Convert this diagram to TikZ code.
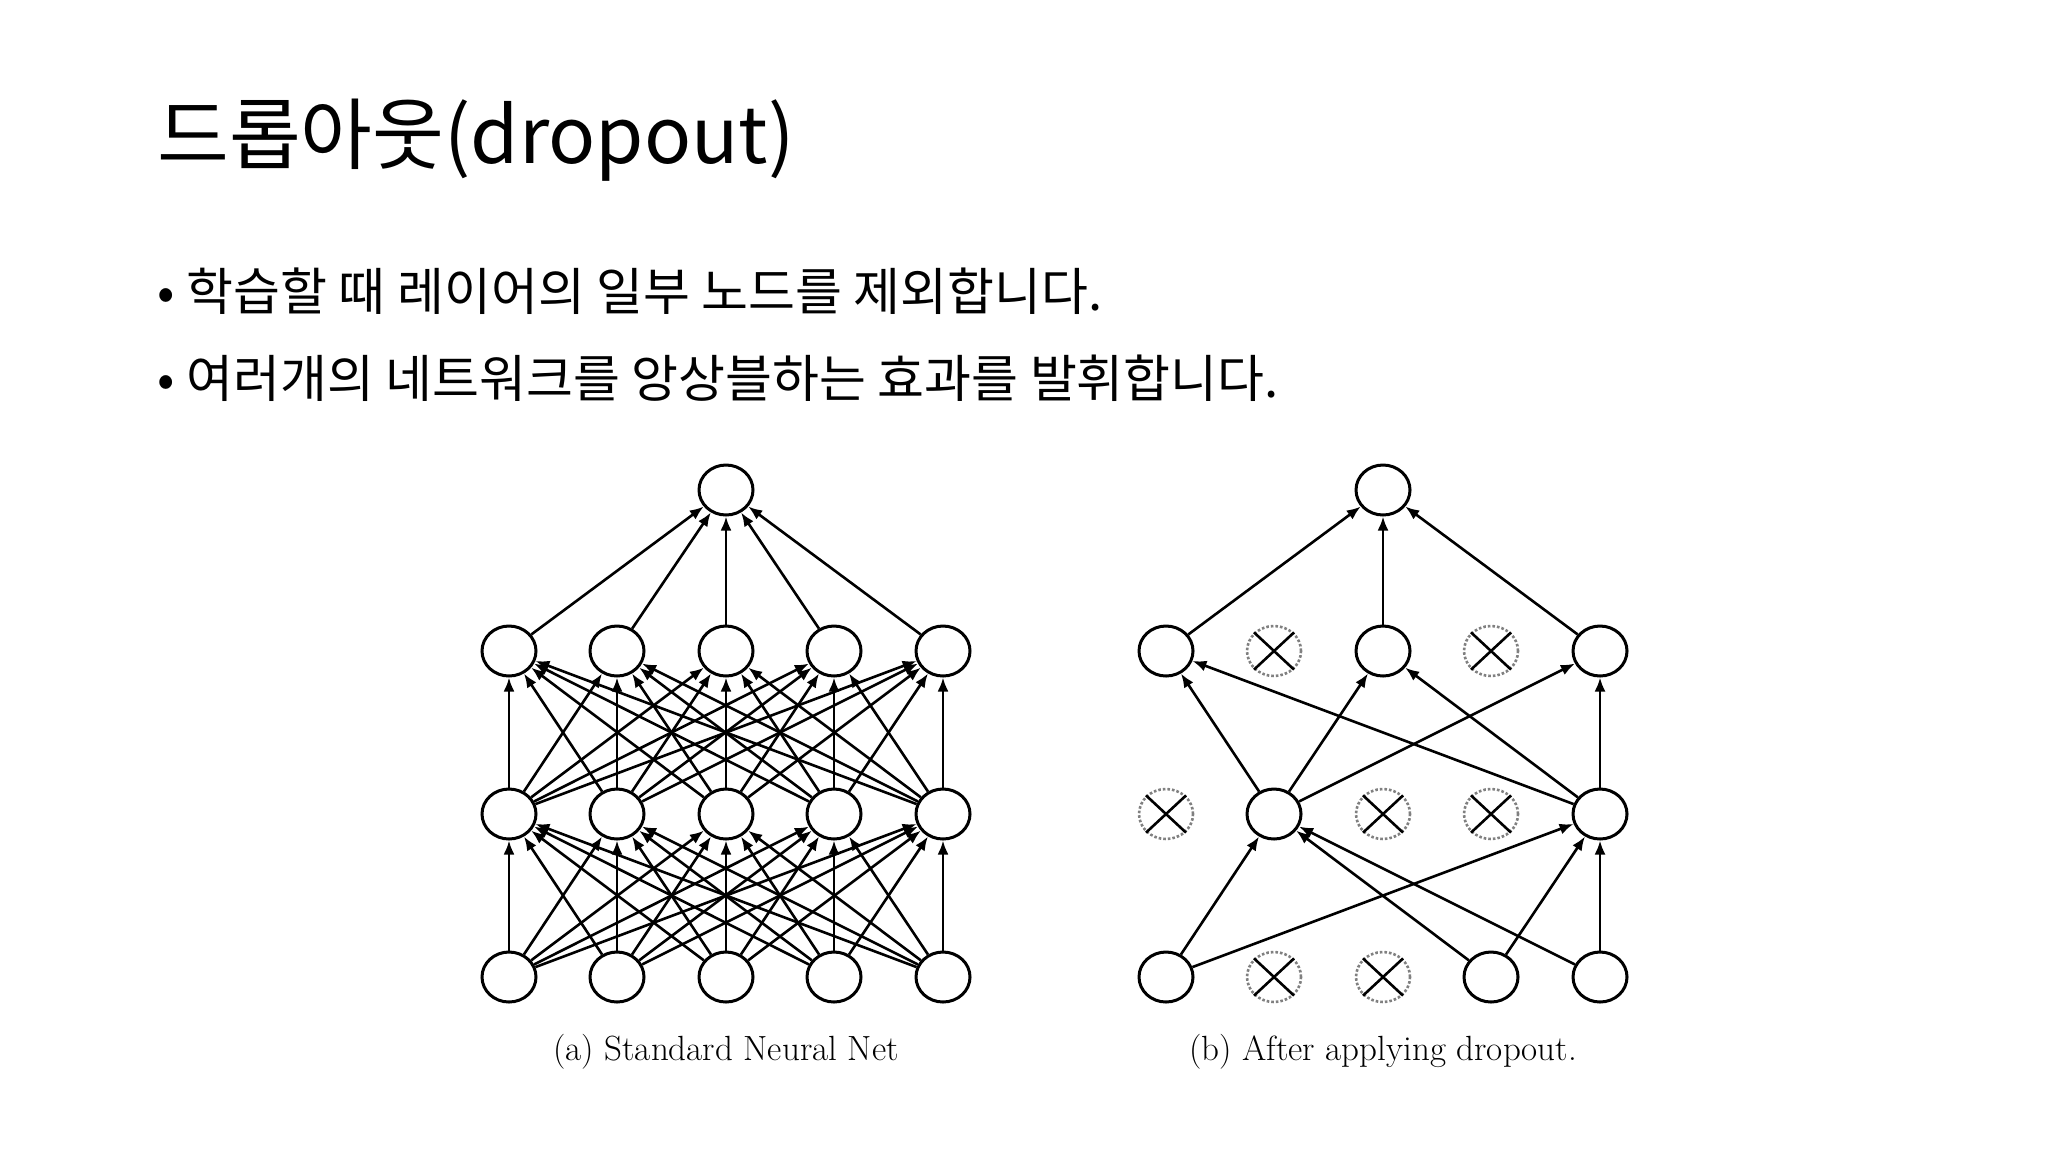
\documentclass[tikz,border=0pt]{standalone}
\usepackage{fontspec}
\newfontfamily\kr{Noto Sans CJK KR}
\usetikzlibrary{arrows.meta,shapes.geometric}
\begin{document}
\begin{tikzpicture}[x=0.5pt,y=-0.5pt,
  neuron/.style={draw,line width=1.5pt,ellipse,minimum width=27pt,minimum height=25pt,inner sep=0pt,fill=white},
  dropped/.style={draw=gray,densely dotted,line width=1.3pt,ellipse,minimum width=27pt,minimum height=25pt,inner sep=0pt},
  conn/.style={line width=1.3pt,-{Latex[length=7pt,width=5.5pt]}},
  cross/.style={line width=1.3pt},
  captext/.style={font=\fontsize{17.5}{20}\selectfont,anchor=base}]
\useasboundingbox (0,0) rectangle (2048,1152);
\fill[white] (0,0) rectangle (2048,1152);
\node[anchor=base west,inner sep=0pt,font=\kr\fontsize{39}{44}\selectfont] (title) at (157,163) {드롭아웃(dropout)};
\node[anchor=base west,inner sep=0pt,font=\kr\fontsize{25.5}{30}\selectfont] (b1) at (157,310) {•\hspace{6pt}학습할 때 레이어의 일부 노드를 제외합니다.};
\node[anchor=base west,inner sep=0pt,font=\kr\fontsize{25.5}{30}\selectfont] (b2) at (157,397) {•\hspace{6pt}여러개의 네트워크를 앙상블하는 효과를 발휘합니다.};
% left network
\foreach \i/\x in {1/509,2/617,3/726,4/834,5/943}{
  \node[neuron] (a0\i) at (\x,977) {};
  \node[neuron] (a1\i) at (\x,814) {};
  \node[neuron] (a2\i) at (\x,651) {};
}
\node[neuron] (aout) at (726,490) {};
\foreach \i in {1,...,5}{\foreach \j in {1,...,5}{
  \draw[conn] (a0\i) -- (a1\j);
  \draw[conn] (a1\i) -- (a2\j);}
  \draw[conn] (a2\i) -- (aout);}
\node[captext] (capa) at (726,1060) {(a) Standard Neural Net};
% right network
\foreach \i/\x in {1/1166,4/1491,5/1600}{\node[neuron] (b0\i) at (\x,977) {};}
\foreach \i/\x in {2/1274,5/1600}{\node[neuron] (b1\i) at (\x,814) {};}
\foreach \i/\x in {1/1166,3/1383,5/1600}{\node[neuron] (b2\i) at (\x,651) {};}
\node[neuron] (bout) at (1383,490) {};
\foreach \n/\x/\y in {d02/1274/977,d03/1383/977,d11/1166/814,d13/1383/814,d14/1491/814,d22/1274/651,d24/1491/651}{
  \node[dropped] (\n) at (\x,\y) {};
  \draw[cross] (\n.north east) -- (\n.south west) (\n.north west) -- (\n.south east);
}
\foreach \a/\b in {1/2,1/5,4/2,5/2,4/5,5/5}{\draw[conn] (b0\a) -- (b1\b);}
\foreach \a/\b in {2/1,2/3,2/5,5/1,5/3,5/5}{\draw[conn] (b1\a) -- (b2\b);}
\foreach \a in {1,3,5}{\draw[conn] (b2\a) -- (bout);}
\node[captext] (capb) at (1383,1060) {(b) After applying dropout.};
\end{tikzpicture}
\end{document}
